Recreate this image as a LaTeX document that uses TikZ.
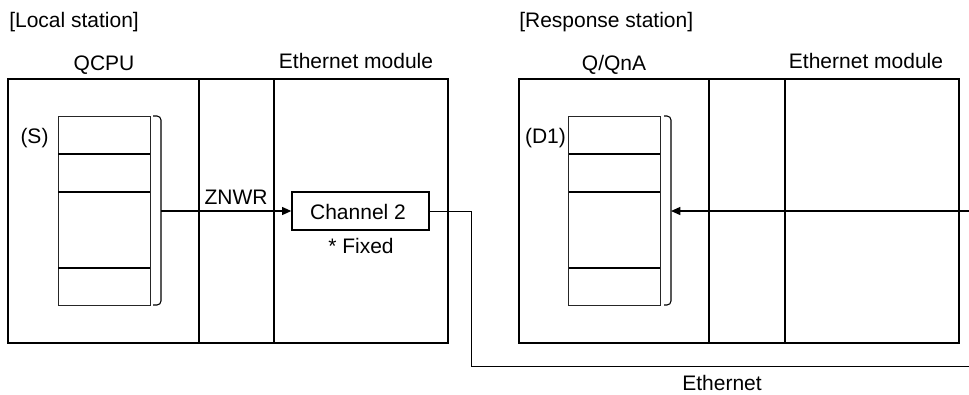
\documentclass[tikz,border=0pt]{standalone}
\usepackage{fontspec}
\setmainfont{Liberation Sans}
\usetikzlibrary{arrows.meta,positioning}

\begin{document}
\begin{tikzpicture}[x=0.75pt, y=-0.75pt,
    font=\fontsize{15.75}{18}\selectfont,
    station/.style={draw, line width=1.4pt, inner sep=0pt, minimum width=330pt, minimum height=198pt},
    regs/.style={draw=black!85, line width=0.7pt, inner sep=0pt, minimum width=69pt, minimum height=141.75pt},
    chanbox/.style={draw, line width=1pt, inner sep=0pt, minimum width=102.75pt, minimum height=28.5pt},
    label/.style={anchor=base, inner sep=0pt},
    arrow/.style={-{Triangle[length=7pt,width=6pt]}, line width=1pt},
    brace/.style={line width=0.8pt, rounded corners=3pt}]

    \useasboundingbox (0,0) rectangle (969,394);

    \node[label, anchor=base west] (lochead) at (9,27) {[Local station]};
    \node[label, anchor=base west] (resphead) at (519,27) {[Response station]};

    \node[station] (local) at (228,211) {};
    \node[station] (resp) at (739,211) {};
    \foreach \x in {199,274,709,785}
        \draw[line width=1.4pt] (\x,79) -- (\x,343);

    \node[label] (qcpu) at (104,70) {QCPU};
    \node[label] (locmod) at (356,68) {Ethernet module};
    \node[label] (qna) at (614,70) {Q/QnA};
    \node[label] (respmod) at (866,68) {Ethernet module};

    \node[regs] (src) at (104,210.5) {};
    \node[regs] (dst) at (614.5,210.5) {};
    \foreach \y in {154,192,268} {
        \draw[line width=1.2pt] (58,\y) -- (150,\y);
        \draw[line width=1.2pt] (569,\y) -- (660,\y);
    }
    \node[label] (slab) at (34.5,143) {(S)};
    \node[label] (dlab) at (545.5,143) {(D1)};

    \draw[brace] (153,116) -- (161,116) -- (161,305) -- (153,305);
    \draw[brace] (664,116) -- (671,116) -- (671,305) -- (664,305);
    \coordinate (srcout) at (161,211);
    \coordinate (dstin) at (671,211);

    \node[chanbox] (chan) at (360.5,211) {};
    \node[label] (chantext) at (358,219) {Channel 2};
    \node[label] (fixed) at (361,253) {* Fixed};

    \draw[arrow] (srcout) -- (chan.west);
    \node[label] (znwr) at (236,204) {ZNWR};

    \coordinate (tap) at (471,366);
    \coordinate (netend) at (969,366);
    \coordinate (netin) at (969,211);
    \draw[line width=0.7pt] (chan.east) -| (tap) -- (netend);
    \draw[arrow] (netin) -- (dstin);
    \node[label] (eth) at (722,390) {Ethernet};
\end{tikzpicture}
\end{document}
